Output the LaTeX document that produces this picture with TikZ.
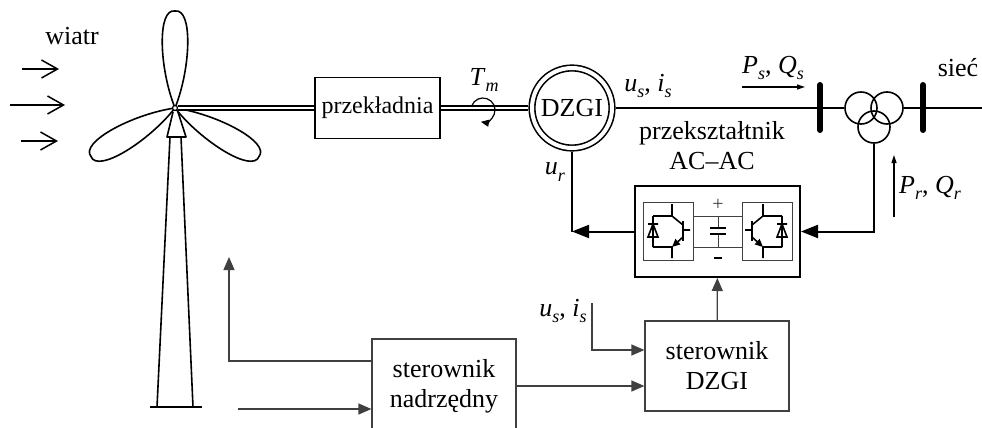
\documentclass[tikz,border=0pt]{standalone}
\usepackage{fontspec}
\setmainfont{Liberation Serif}
\usetikzlibrary{arrows.meta,positioning,calc}

% italic quantity with an italic subscript
\newcommand\qsym[2]{\textit{#1}\raisebox{-0.55ex}{\fontsize{18}{20}\selectfont\textit{#2}}}

\begin{document}
\begin{tikzpicture}[x=1pt,y=-1pt,
        font=\fontsize{26}{30}\selectfont,
        blade/.style={line width=1.6pt, line join=round},
        shaft/.style={double, line width=1.5pt, double distance=2.4pt},
        pow/.style={line width=2pt},
        ctrl/.style={line width=1.2pt, draw=black!75},
        gearbox/.style={draw, line width=1.5pt, minimum width=125pt, minimum height=61pt, inner sep=0pt,
                        font=\fontsize{24}{28}\selectfont},
        ctrlbox/.style={draw=black!75, line width=1.2pt, align=center, minimum width=144pt, inner sep=0pt},
        tip/.style={-{Triangle[length=13pt,width=11pt]}},
        bigtip/.style={-{Triangle[length=17pt,width=13pt]}},
        smalltip/.style={-{Triangle[length=8pt,width=5pt]}},
        wind/.style={-{Straight Barb[length=16pt,width=18pt]}, line width=1.5pt},
        bus/.style={line width=6pt, line cap=round},
        coil/.style={circle, draw, line width=1.6pt, minimum size=32pt, inner sep=0pt}
    ]
    \clip (0,0) rectangle (982,428);

    % wind
    \node (wind) at (72,36) {wiatr};
    \foreach \xa/\xb/\y in {22/59/69, 10/65/105, 21/58/141}
        \draw[wind] (\xa,\y) -- (\xb,\y);

    % turbine: tower, nacelle, blades
    \draw[blade] (170,137) -- (157,407) (181,137) -- (193,407);
    \draw[blade] (150,407) -- (202,407);
    \draw[blade] (173,112) -- (167,137) -- (186,137) -- (178,112);
    \foreach \a in {0,120,240}
        \draw[blade, shift={(175,108)}, rotate=\a]
            (0,0) .. controls (16,-40) and (18,-100) .. (0,-97)
                  .. controls (-18,-100) and (-16,-40) .. (0,0);
    \node[circle, draw, line width=1.2pt, fill=white, minimum size=5pt, inner sep=0pt] (hub) at (175,108) {};

    % drive train
    \node[gearbox] (gear) at (377.5,108) {przekładnia};
    \node[circle, draw, double, line width=1.6pt, double distance=4pt, minimum size=80pt,
          inner sep=0pt, outer sep=3.6pt] (dzgi) at (572,108) {DZGI};
    \draw[shaft] (hub) -- (gear);
    \draw[shaft] (gear) -- (dzgi);
    \draw[line width=1.2pt, -{Triangle[length=8pt,width=7pt]}]
        (483,110) ++(160:12pt) arc[start angle=160, end angle=-100, radius=12pt];
    \node (tm) at (484,80) {\qsym{T}{m}};

    % transformer and grid
    \node[coil] (tA) at (861,108) {};
    \node[coil] (tB) at (887,108) {};
    \node[coil] (tC) at (874,127) {};
    \coordinate (grid) at (982,108);
    \draw[pow] (dzgi) -- (tA);
    \draw[pow] (tB) -- (grid);
    \draw[bus] (820,85) -- (820,130);
    \draw[bus] (923,85) -- (923,130);
    \node (sec) at (958,68) {sieć};
    \node (usis) at (648,86) {\qsym{u}{s}, \qsym{i}{s}};
    \node (psqs) at (773,68) {\qsym{P}{s}, \qsym{Q}{s}};
    \coordinate (ps1) at (742,87);
    \coordinate (ps2) at (805,87);
    \draw[line width=1.2pt, smalltip] (ps1) -- (ps2);

    % back-to-back converter
    \node[draw, line width=2pt, minimum width=165pt, minimum height=91pt, inner sep=0pt] (conv) at (717.5,231.5) {};
    \node[align=center] (convlbl) at (712,146) {przekształtnik\\AC–AC};
    \foreach \cx/\sx in {668/1, 767/-1}{
        \begin{scope}[shift={(\cx,231)}, xscale=\sx]
            \draw[line width=1pt, draw=black!75] (-25,-29) rectangle (25,29);
            \draw[line width=1.6pt] (4,-27) -- (4,-15) -- (15,-6)
                (-15,-15) -- (4,-15) (15,-1) -- (22,-1)
                (-15,16) -- (4,16) -- (4,27)
                (-15,-15) -- (-15,16)
                (-20,6) -- (-10,6) -- (-15,-7) -- cycle
                (-20,-7) -- (-10,-7);
            \draw[line width=2.4pt] (15,-10) -- (15,10);
            \draw[line width=1.6pt, -{Triangle[length=8pt,width=7pt]}] (15,6) -- (4,16);
        \end{scope}
    }
    \draw[line width=1pt, draw=black!75] (693,216) -- (742,216) (693,247) -- (742,247)
        (718,216) -- (718,228) (718,234) -- (718,247);
    \draw[line width=1.6pt] (710,228) -- (726,228) (710,234) -- (726,234);
    \node[font=\fontsize{20}{22}\selectfont, text=black!75] (plus) at (718,205) {+};
    \draw[line width=2.5pt] (714,258) -- (722,258);

    \draw[pow] (dzgi) -- (dzgi.south |- conv.west);
    \draw[pow, bigtip] (conv.west) -- (dzgi.south |- conv.west);
    \node (ur) at (555,172) {\qsym{u}{r}};
    \draw[pow, bigtip] (tC.south) |- (conv.east);
    \coordinate (pr1) at (894,217);
    \coordinate (pr2) at (894,155);
    \draw[line width=1.2pt, smalltip] (pr1) -- (pr2);
    \node (prqr) at (930,188) {\qsym{P}{r}, \qsym{Q}{r}};

    % control
    \node[ctrlbox, minimum height=90pt] (ctrlD) at (717,366) {sterownik\\DZGI};
    \node[ctrlbox, minimum height=94pt] (master) at (444,386) {sterownik\\nadrzędny};
    \draw[ctrl, tip] (ctrlD) -- (conv);
    \draw[ctrl, tip] (master.east) -- (master.east -| ctrlD.west);
    \coordinate (meas) at (592,303);
    \node (usis2) at (563,311) {\qsym{u}{s}, \qsym{i}{s}};
    \draw[ctrl, tip] (meas) |- ([yshift=16pt]ctrlD.west);
    \coordinate (pitch) at (229,257);
    \draw[ctrl, tip] ([yshift=25pt]master.west) -| (pitch);
    \coordinate (ref) at (238,409);
    \draw[ctrl, tip] (ref) -- (ref -| master.west);
\end{tikzpicture}
\end{document}
